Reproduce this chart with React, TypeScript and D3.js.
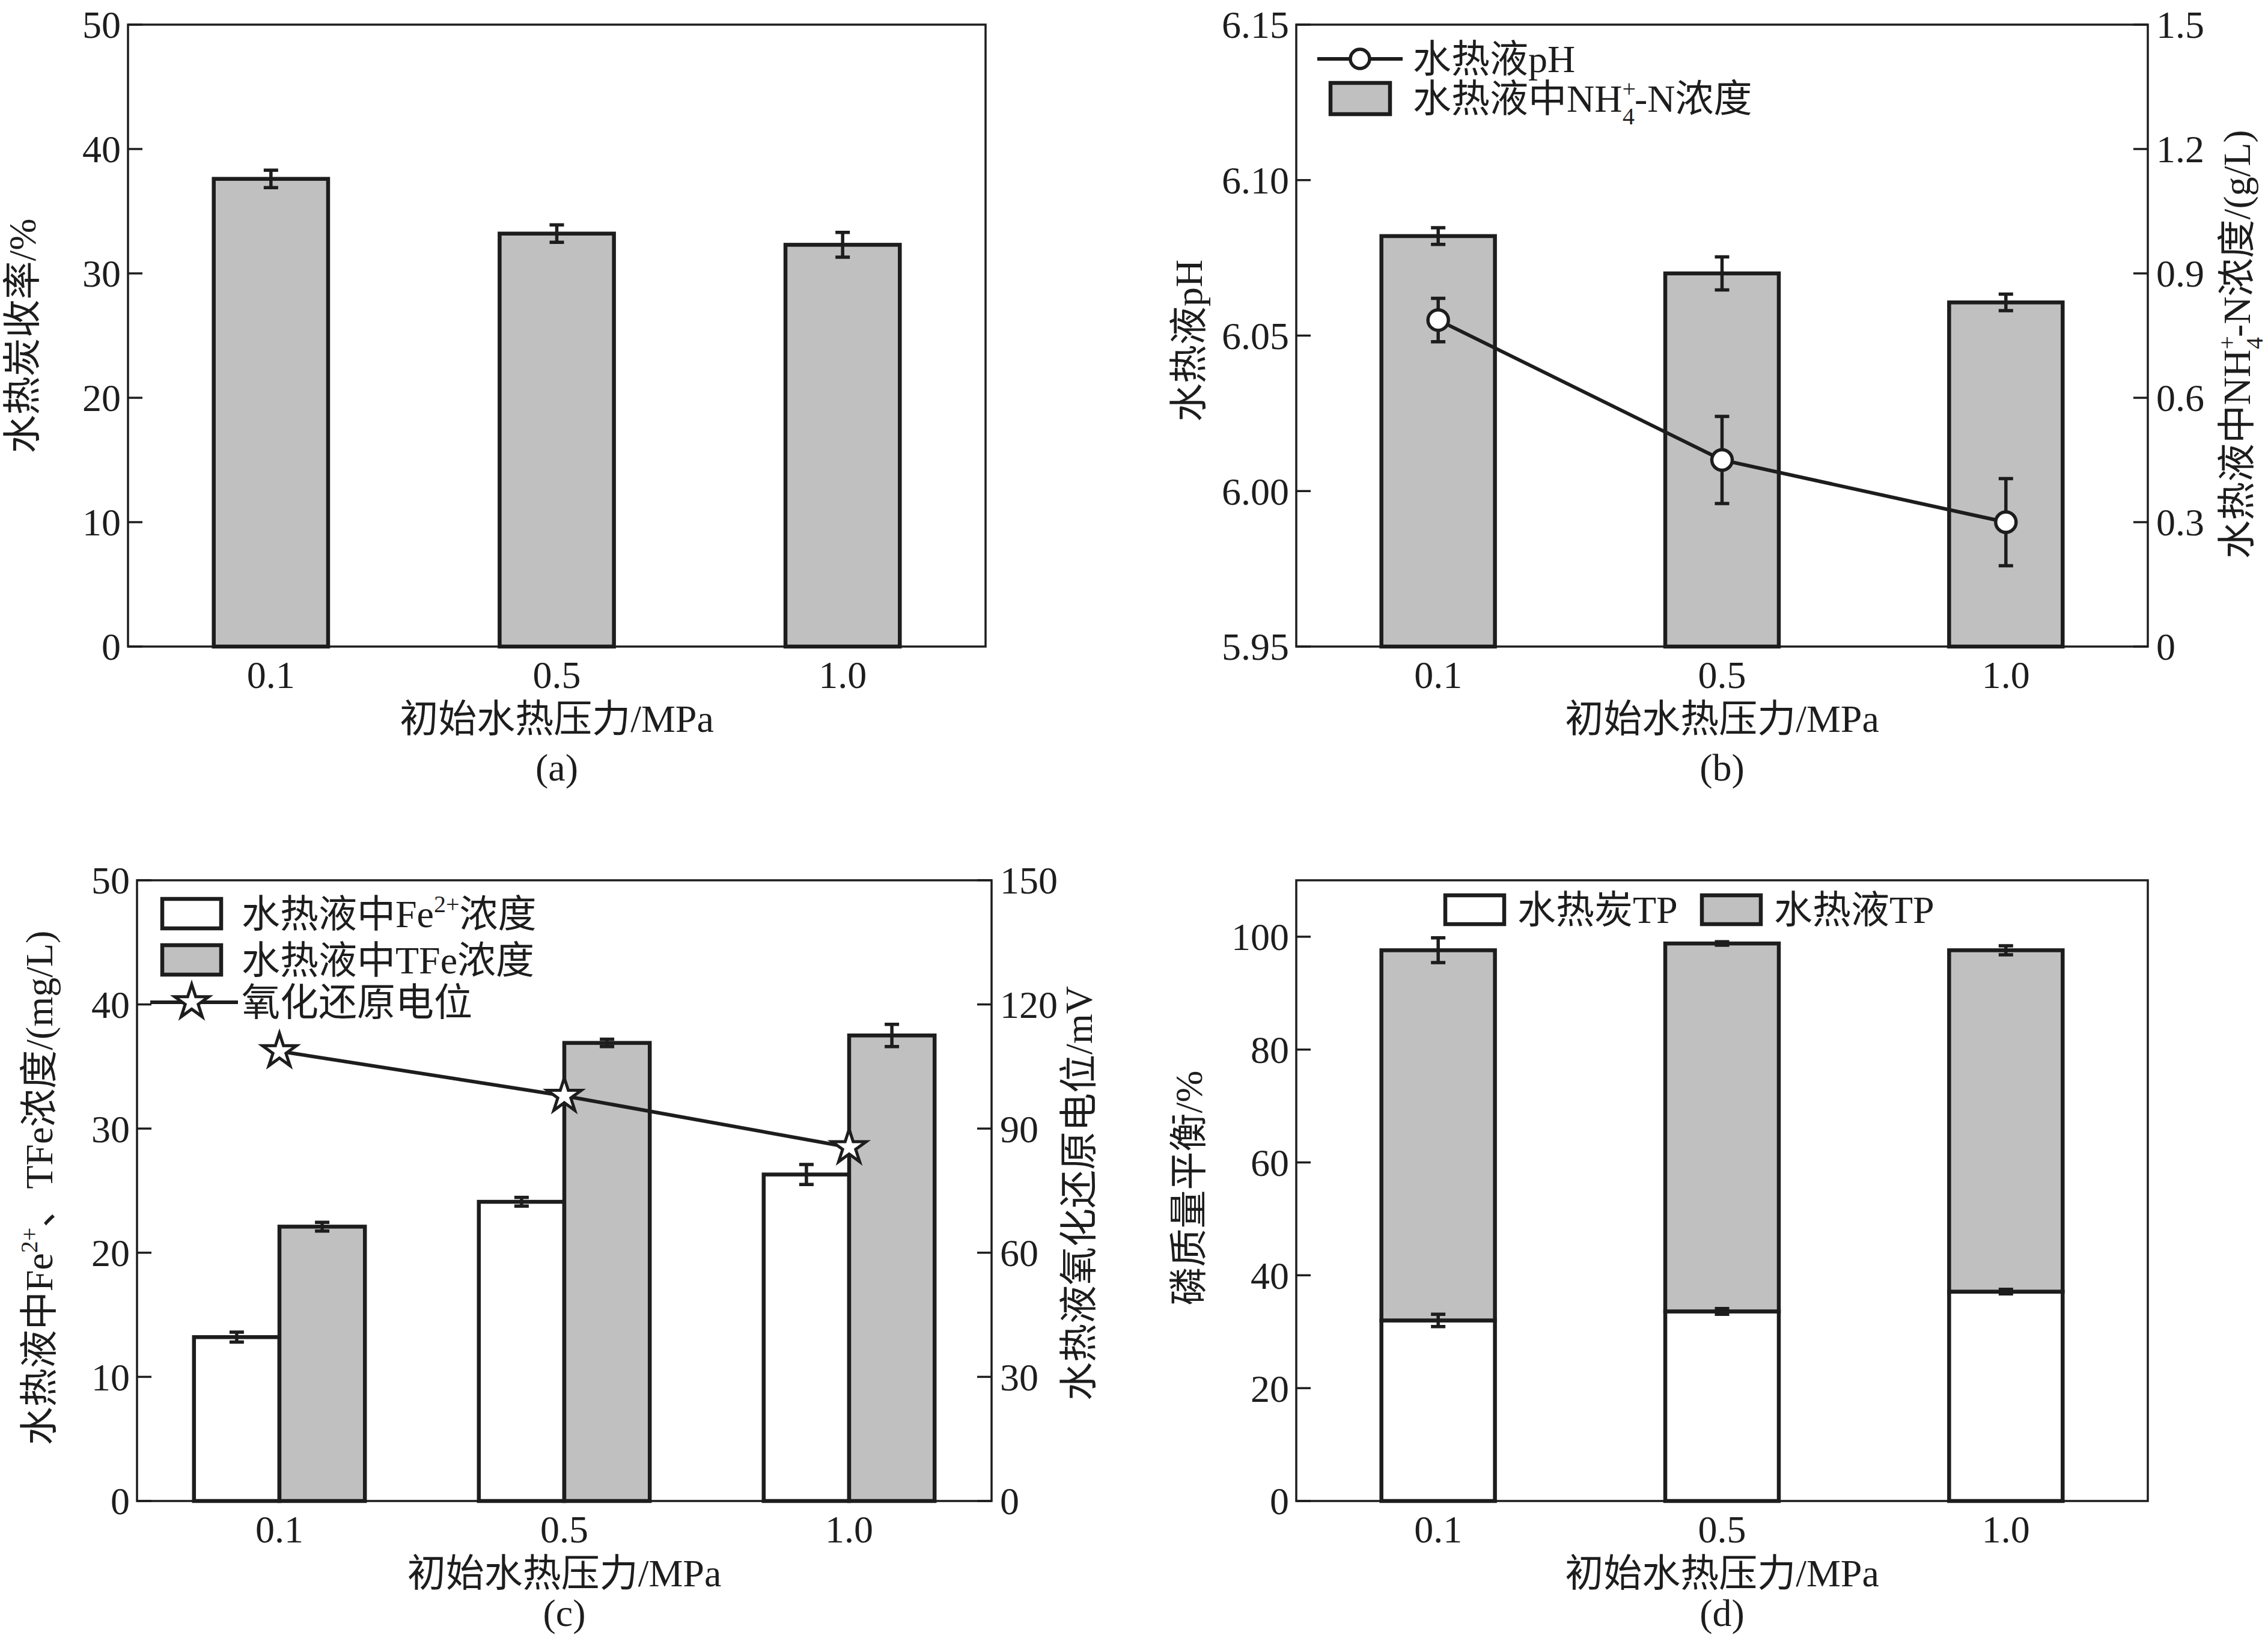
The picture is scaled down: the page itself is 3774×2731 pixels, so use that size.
import React from "react";
import * as d3 from "d3";

// ---- data ----
const pressures = ["0.1", "0.5", "1.0"];

// (a) hydrochar yield, %
const charYield = [37.6, 33.2, 32.3];
const charYieldErr = [0.7, 0.7, 1.0];

// (b) liquid pH (left) and NH4+-N (right, g/L)
const liquidPH = [6.055, 6.01, 5.99];
const liquidPHErr = [0.007, 0.014, 0.014];
const nh4N = [0.99, 0.9, 0.83];
const nh4NErr = [0.02, 0.04, 0.02];

// (c) Fe2+ / TFe (mg/L) and ORP (mV)
const fe2 = [13.2, 24.1, 26.3];
const fe2Err = [0.4, 0.35, 0.8];
const tfe = [22.1, 36.9, 37.5];
const tfeErr = [0.35, 0.3, 0.9];
const orp = [108.7, 97.9, 85.5];

// (d) phosphorus balance, %
const charTP = [32.0, 33.6, 37.1];
const charTPErr = [1.1, 0.5, 0.4];
const liquidTP = [65.6, 65.2, 60.5];
const totalTPErr = [2.2, 0.3, 0.8];

// tick values
const ticksA = [0, 10, 20, 30, 40, 50];
const ticksPH = [5.95, 6.0, 6.05, 6.1, 6.15];
const ticksNH4 = [0, 0.3, 0.6, 0.9, 1.2, 1.5];
const ticksFe = [0, 10, 20, 30, 40, 50];
const ticksORP = [0, 30, 60, 90, 120, 150];
const ticksTP = [0, 20, 40, 60, 80, 100];

const W = 3774;
const H = 2731;
const FONT = '"Liberation Serif", "Times New Roman", "Noto Sans CJK SC", serif';
const FS = 64;
const SUB = 40;
const INK = "#1d1d1d";
const GRAY = "#c0c0c0";
const TICK = 24;
const BAR_SW = 6.5;
const LINE_SW = 6;

type Box = { x0: number; x1: number; y0: number; y1: number };

const boxA: Box = { x0: 213, x1: 1640, y0: 41, y1: 1076 };
const boxB: Box = { x0: 2157, x1: 3574, y0: 41, y1: 1076 };
const boxC: Box = { x0: 228, x1: 1650, y0: 1465, y1: 2498 };
const boxD: Box = { x0: 2157, x1: 3574, y0: 1465, y1: 2498 };

const fmtInt = (d: number) => String(d);

function Frame({ b }: { b: Box }) {
  return (
    <rect x={b.x0} y={b.y0} width={b.x1 - b.x0} height={b.y1 - b.y0}
      fill="none" stroke={INK} strokeWidth={3.5} />
  );
}

function LeftAxis({ b, y, ticks, fmt }: { b: Box; y: d3.ScaleLinear<number, number>; ticks: number[]; fmt: (d: number) => string }) {
  return (
    <g>
      {ticks.map((t) => (
        <g key={t}>
          <line x1={b.x0} x2={b.x0 + TICK} y1={y(t)} y2={y(t)} stroke={INK} strokeWidth={3.5} />
          <text x={b.x0 - 12} y={y(t)} dy="0.35em" textAnchor="end">{fmt(t)}</text>
        </g>
      ))}
    </g>
  );
}

function RightAxis({ b, y, ticks, fmt }: { b: Box; y: d3.ScaleLinear<number, number>; ticks: number[]; fmt: (d: number) => string }) {
  return (
    <g>
      {ticks.map((t) => (
        <g key={t}>
          <line x1={b.x1} x2={b.x1 - TICK} y1={y(t)} y2={y(t)} stroke={INK} strokeWidth={3.5} />
          <text x={b.x1 + 14} y={y(t)} dy="0.35em" textAnchor="start">{fmt(t)}</text>
        </g>
      ))}
    </g>
  );
}

function XLabels({ b, x, tag, tagY }: { b: Box; x: d3.ScaleBand<string>; tag: string; tagY: number }) {
  const cx = (b.x0 + b.x1) / 2;
  return (
    <g>
      {pressures.map((p) => (
        <text key={p} x={(x(p) ?? 0) + x.bandwidth() / 2} y={b.y1 + 47} dy="0.35em" textAnchor="middle">{p}</text>
      ))}
      <text x={cx} y={b.y1 + 120} dy="0.35em" textAnchor="middle">初始水热压力/MPa</text>
      <text x={cx} y={tagY} dy="0.35em" textAnchor="middle">({tag})</text>
    </g>
  );
}

function ErrBar({ cx, y1, y2, cap = 12 }: { cx: number; y1: number; y2: number; cap?: number }) {
  return (
    <path d={`M${cx - cap},${y1}H${cx + cap}M${cx},${y1}V${y2}M${cx - cap},${y2}H${cx + cap}`}
      fill="none" stroke={INK} strokeWidth={5.5} />
  );
}

function YTitle({ x, y, children }: { x: number; y: number; children: React.ReactNode }) {
  return (
    <text transform={`translate(${x},${y}) rotate(-90)`} textAnchor="middle" dy="0.35em">{children}</text>
  );
}

const bandX = (b: Box) =>
  d3.scaleBand<string>().domain(pressures).range([b.x0, b.x1]).paddingInner(0.6).paddingOuter(0.3);

function PanelA() {
  const b = boxA;
  const x = bandX(b);
  const y = d3.scaleLinear().domain([0, 50]).range([b.y1, b.y0]);
  return (
    <g>
      <Frame b={b} />
      <LeftAxis b={b} y={y} ticks={ticksA} fmt={fmtInt} />
      {pressures.map((p, i) => (
        <rect key={p} x={x(p)} y={y(charYield[i])} width={x.bandwidth()} height={y(0) - y(charYield[i])}
          fill={GRAY} stroke={INK} strokeWidth={BAR_SW} />
      ))}
      {pressures.map((p, i) => (
        <ErrBar key={p} cx={(x(p) ?? 0) + x.bandwidth() / 2}
          y1={y(charYield[i] + charYieldErr[i])} y2={y(charYield[i] - charYieldErr[i])} />
      ))}
      <XLabels b={b} x={x} tag="a" tagY={1277} />
      <YTitle x={37} y={559}>水热炭收率/%</YTitle>
    </g>
  );
}

function NH4() {
  return (
    <>
      NH<tspan fontSize={SUB} dy={-25}>+</tspan>
      <tspan fontSize={SUB} dx={-22} dy={46}>4</tspan>
      <tspan dy={-21}>-N</tspan>
    </>
  );
}

function PanelB() {
  const b = boxB;
  const x = bandX(b);
  const yL = d3.scaleLinear().domain([5.95, 6.15]).range([b.y1, b.y0]);
  const yR = d3.scaleLinear().domain([0, 1.5]).range([b.y1, b.y0]);
  const cx = (p: string) => (x(p) ?? 0) + x.bandwidth() / 2;
  const line = d3.line<number>().x((_, i) => cx(pressures[i])).y((d) => yL(d));
  return (
    <g>
      <Frame b={b} />
      <LeftAxis b={b} y={yL} ticks={ticksPH} fmt={(d) => d.toFixed(2)} />
      <RightAxis b={b} y={yR} ticks={ticksNH4} fmt={(d) => (d === 0 ? "0" : d.toFixed(1))} />
      {pressures.map((p, i) => (
        <rect key={p} x={x(p)} y={yR(nh4N[i])} width={x.bandwidth()} height={yR(0) - yR(nh4N[i])}
          fill={GRAY} stroke={INK} strokeWidth={BAR_SW} />
      ))}
      {pressures.map((p, i) => (
        <ErrBar key={p} cx={cx(p)} y1={yR(nh4N[i] + nh4NErr[i])} y2={yR(nh4N[i] - nh4NErr[i])} />
      ))}
      <path d={line(liquidPH) ?? ""} fill="none" stroke={INK} strokeWidth={LINE_SW} />
      {pressures.map((p, i) => (
        <ErrBar key={p} cx={cx(p)} y1={yL(liquidPH[i] + liquidPHErr[i])} y2={yL(liquidPH[i] - liquidPHErr[i])} />
      ))}
      {pressures.map((p, i) => (
        <circle key={p} cx={cx(p)} cy={yL(liquidPH[i])} r={17} fill="#fff" stroke={INK} strokeWidth={5.5} />
      ))}
      {/* legend */}
      <line x1={2192} x2={2334} y1={98} y2={98} stroke={INK} strokeWidth={LINE_SW} />
      <circle cx={2263} cy={98} r={16} fill="#fff" stroke={INK} strokeWidth={5.5} />
      <text x={2351} y={98} dy="0.35em">水热液pH</text>
      <rect x={2214} y={138} width={99} height={52} fill={GRAY} stroke={INK} strokeWidth={BAR_SW} />
      <text x={2351} y={164} dy="0.35em">水热液中<NH4 />浓度</text>
      <XLabels b={b} x={x} tag="b" tagY={1277} />
      <YTitle x={1978} y={567}>水热液pH</YTitle>
      <YTitle x={3722} y={573}>水热液中<NH4 />浓度/(g/L)</YTitle>
    </g>
  );
}

function PanelC() {
  const b = boxC;
  const x = d3.scaleBand<string>().domain(pressures).range([b.x0, b.x1]).paddingInner(0.4).paddingOuter(0.2);
  const xi = d3.scaleBand<string>().domain(["fe2", "tfe"]).range([0, x.bandwidth()]);
  const yL = d3.scaleLinear().domain([0, 50]).range([b.y1, b.y0]);
  const yR = d3.scaleLinear().domain([0, 150]).range([b.y1, b.y0]);
  const cx = (p: string) => (x(p) ?? 0) + x.bandwidth() / 2;
  const series = [
    { key: "fe2", vals: fe2, errs: fe2Err, fill: "#fff" },
    { key: "tfe", vals: tfe, errs: tfeErr, fill: GRAY },
  ];
  const line = d3.line<number>().x((_, i) => cx(pressures[i])).y((d) => yR(d));
  const star = d3.symbol(d3.symbolStar, 1000)() ?? "";
  return (
    <g>
      <Frame b={b} />
      <LeftAxis b={b} y={yL} ticks={ticksFe} fmt={fmtInt} />
      <RightAxis b={b} y={yR} ticks={ticksORP} fmt={fmtInt} />
      {series.map((s) =>
        pressures.map((p, i) => (
          <rect key={s.key + p} x={(x(p) ?? 0) + (xi(s.key) ?? 0)} y={yL(s.vals[i])} width={xi.bandwidth()}
            height={yL(0) - yL(s.vals[i])} fill={s.fill} stroke={INK} strokeWidth={BAR_SW} />
        ))
      )}
      {series.map((s) =>
        pressures.map((p, i) => (
          <ErrBar key={s.key + p} cx={(x(p) ?? 0) + (xi(s.key) ?? 0) + xi.bandwidth() / 2}
            y1={yL(s.vals[i] + s.errs[i])} y2={yL(s.vals[i] - s.errs[i])} />
        ))
      )}
      <path d={line(orp) ?? ""} fill="none" stroke={INK} strokeWidth={LINE_SW} />
      {pressures.map((p, i) => (
        <path key={p} d={star} transform={`translate(${cx(p)},${yR(orp[i])})`} fill="#fff" stroke={INK} strokeWidth={5} />
      ))}
      {/* legend */}
      <rect x={270} y={1496} width={98} height={49} fill="#fff" stroke={INK} strokeWidth={BAR_SW} />
      <text x={402} y={1521} dy="0.35em">水热液中Fe<tspan fontSize={SUB} dy={-25}>2+</tspan><tspan dy={25}>浓度</tspan></text>
      <rect x={270} y={1573} width={98} height={49} fill={GRAY} stroke={INK} strokeWidth={BAR_SW} />
      <text x={402} y={1598} dy="0.35em">水热液中TFe浓度</text>
      <line x1={250} x2={396} y1={1668} y2={1668} stroke={INK} strokeWidth={LINE_SW} />
      <path d={star} transform="translate(319,1668)" fill="#fff" stroke={INK} strokeWidth={5} />
      <text x={402} y={1668} dy="0.35em">氧化还原电位</text>
      <XLabels b={b} x={x} tag="c" tagY={2684} />
      <YTitle x={65} y={1977}>水热液中Fe<tspan fontSize={SUB} dy={-25}>2+</tspan><tspan dy={25}>、TFe浓度/(mg/L)</tspan></YTitle>
      <YTitle x={1795} y={1986}>水热液氧化还原电位/mV</YTitle>
    </g>
  );
}

function PanelD() {
  const b = boxD;
  const x = bandX(b);
  const y = d3.scaleLinear().domain([0, 110]).range([b.y1, b.y0]);
  const rows = pressures.map((p, i) => ({ p, char: charTP[i], liquid: liquidTP[i] }));
  const stacked = d3.stack<any>().keys(["char", "liquid"])(rows);
  const fills = ["#fff", GRAY];
  const errs = [charTPErr, totalTPErr];
  return (
    <g>
      <Frame b={b} />
      <LeftAxis b={b} y={y} ticks={ticksTP} fmt={fmtInt} />
      {stacked.map((layer, k) =>
        layer.map((d, i) => (
          <rect key={k + "-" + i} x={x(pressures[i])} y={y(d[1])} width={x.bandwidth()} height={y(d[0]) - y(d[1])}
            fill={fills[k]} stroke={INK} strokeWidth={BAR_SW} />
        ))
      )}
      {stacked.map((layer, k) =>
        layer.map((d, i) => (
          <ErrBar key={k + "-" + i} cx={(x(pressures[i]) ?? 0) + x.bandwidth() / 2}
            y1={y(d[1] + errs[k][i])} y2={y(d[1] - errs[k][i])} />
        ))
      )}
      {/* legend */}
      <rect x={2405} y={1490} width={98} height={48} fill="#fff" stroke={INK} strokeWidth={BAR_SW} />
      <text x={2525} y={1514} dy="0.35em">水热炭TP</text>
      <rect x={2832} y={1490} width={98} height={48} fill={GRAY} stroke={INK} strokeWidth={BAR_SW} />
      <text x={2952} y={1514} dy="0.35em">水热液TP</text>
      <XLabels b={b} x={x} tag="d" tagY={2684} />
      <YTitle x={1978} y={1977}>磷质量平衡/%</YTitle>
    </g>
  );
}

export default function App() {
  return (
    <svg width={W} height={H} viewBox={`0 0 ${W} ${H}`}
      style={{ position: "absolute", left: 0, top: 0, background: "#fff" }}
      fontFamily={FONT} fontSize={FS} fill={INK}>
      <rect width={W} height={H} fill="#fff" />
      <PanelA />
      <PanelB />
      <PanelC />
      <PanelD />
    </svg>
  );
}
